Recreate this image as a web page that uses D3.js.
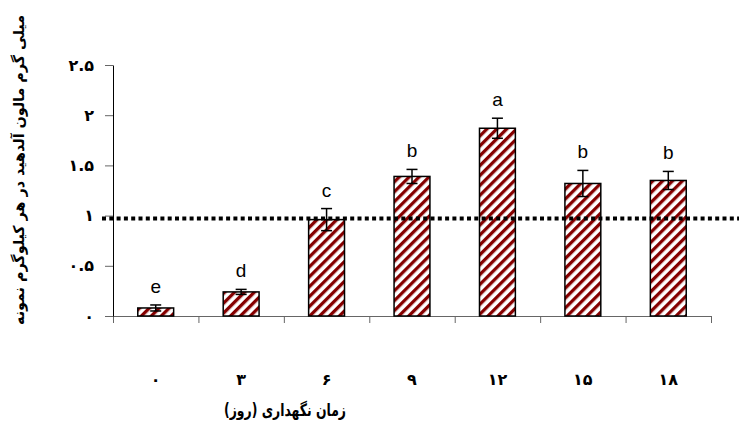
<!DOCTYPE html>
<html lang="fa">
<head>
  <meta charset="UTF-8">
  <title>مالون آلدهید</title>
  <script src="https://d3js.org/d3.v7.min.js"></script>
  <style>
    body { margin: 0; background: #fff; }
    .fa { font-family: "DejaVu Sans", sans-serif; font-weight: bold; }
    .letter { font-family: Arial, "Liberation Sans", sans-serif; font-size: 19px; }
  </style>
</head>
<body>
  <svg width="739" height="425"></svg>
  <script>
    // Storage days and measured values (mg MDA / kg)
    const days = [0, 3, 6, 9, 12, 15, 18];
    const values = [0.08, 0.24, 0.96, 1.39, 1.87, 1.32, 1.35];
    const errors = [0.03, 0.025, 0.11, 0.07, 0.10, 0.13, 0.09];
    const letters = ["e", "d", "c", "b", "a", "b", "b"];
    const yTicks = [0, 0.5, 1, 1.5, 2, 2.5];
    const limit = 0.97;

    const faDigits = "۰۱۲۳۴۵۶۷۸۹";
    const toFa = v => String(v).replace(/\d/g, d => faDigits[d]);

    const margin = { left: 113, right: 28, top: 65, bottom: 109 };
    const W = 739, H = 425;
    const plotW = W - margin.left - margin.right;
    const plotH = H - margin.top - margin.bottom;

    const svg = d3.select("svg");
    const g = svg.append("g").attr("transform", `translate(${margin.left},${margin.top})`);

    const x = d3.scaleBand()
      .domain(days)
      .range([0, plotW])
      .paddingInner(0.58)
      .paddingOuter(0.29);

    const xEdge = d3.scaleLinear().domain([0, days.length]).range([0, plotW]);

    const y = d3.scaleLinear().domain([0, 2.5]).range([plotH, 0]);

    // striped fill
    const pat = svg.append("defs").append("pattern")
      .attr("id", "stripes")
      .attr("patternUnits", "userSpaceOnUse")
      .attr("width", 7).attr("height", 7)
      .attr("patternTransform", "rotate(45)");
    pat.append("rect").attr("width", 7).attr("height", 7).attr("fill", "#fff");
    pat.append("rect").attr("width", 3.3).attr("height", 7).attr("fill", "#850000");

    // x axis (ticks between categories)
    const xAxis = g.append("g")
      .attr("transform", `translate(0,${plotH})`)
      .call(d3.axisBottom(xEdge)
        .tickValues(d3.range(days.length + 1))
        .tickFormat("")
        .tickSize(7)
        .tickSizeOuter(0));
    xAxis.selectAll("path, line").attr("stroke", "#666");

    g.selectAll(".xlab")
      .data(days)
      .enter().append("text")
      .attr("class", "fa")
      .attr("x", d => x(d) + x.bandwidth() / 2)
      .attr("y", plotH + 69)
      .attr("text-anchor", "middle")
      .attr("font-size", 16)
      .text(d => toFa(d));

    // y axis
    const yAxis = g.append("g")
      .call(d3.axisLeft(y)
        .tickValues(yTicks)
        .tickSize(8)
        .tickSizeOuter(0)
        .tickPadding(11)
        .tickFormat(d => toFa(d)));
    yAxis.select(".domain").attr("stroke", "#000");
    yAxis.selectAll(".tick line").attr("stroke", "#666");
    yAxis.selectAll("text").attr("class", "fa").attr("font-size", 16).attr("font-family", null);

    // bars
    g.selectAll(".bar")
      .data(days)
      .enter().append("rect")
      .attr("class", "bar")
      .attr("x", d => x(d))
      .attr("y", (d, i) => y(values[i]))
      .attr("width", x.bandwidth())
      .attr("height", (d, i) => plotH - y(values[i]))
      .attr("fill", "url(#stripes)")
      .attr("stroke", "#000")
      .attr("stroke-width", 1.5);

    // reference line
    g.append("line")
      .attr("x1", -11).attr("x2", W - margin.left)
      .attr("y1", y(limit)).attr("y2", y(limit))
      .attr("stroke", "#000")
      .attr("stroke-width", 4)
      .attr("stroke-dasharray", "4,3.3");

    // error bars
    const eb = g.selectAll(".err")
      .data(days)
      .enter().append("g")
      .attr("transform", d => `translate(${x(d) + x.bandwidth() / 2},0)`);
    eb.append("line")
      .attr("y1", (d, i) => y(values[i] + errors[i]))
      .attr("y2", (d, i) => y(values[i] - errors[i]))
      .attr("stroke", "#000").attr("stroke-width", 1.5);
    [1, -1].forEach(s => {
      eb.append("line")
        .attr("x1", -5.5).attr("x2", 5.5)
        .attr("y1", (d, i) => y(values[i] + s * errors[i]))
        .attr("y2", (d, i) => y(values[i] + s * errors[i]))
        .attr("stroke", "#000").attr("stroke-width", 1.5);
    });

    // significance letters
    g.selectAll(".letter")
      .data(days)
      .enter().append("text")
      .attr("class", "letter")
      .attr("x", d => x(d) + x.bandwidth() / 2)
      .attr("y", (d, i) => y(values[i] + errors[i]) - 12)
      .attr("text-anchor", "middle")
      .text((d, i) => letters[i]);

    // axis titles
    svg.append("text")
      .attr("class", "fa")
      .attr("font-size", 15)
      .attr("text-anchor", "middle")
      .attr("textLength", 310)
      .attr("lengthAdjust", "spacingAndGlyphs")
      .attr("transform", "translate(24,170) rotate(-90)")
      .text("میلی گرم مالون آلدهید در هر کیلوگرم نمونه");

    svg.append("text")
      .attr("class", "fa")
      .attr("font-size", 17)
      .attr("text-anchor", "middle")
      .attr("textLength", 122)
      .attr("lengthAdjust", "spacingAndGlyphs")
      .attr("x", 285)
      .attr("y", 416)
      .text("زمان نگهداری (روز)");
  </script>
</body>
</html>
